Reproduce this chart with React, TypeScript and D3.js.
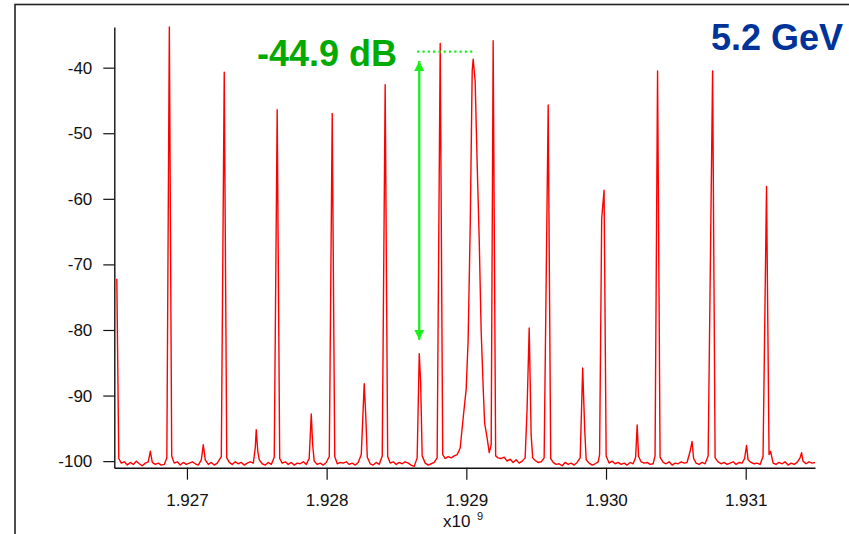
import React, { useEffect, useRef } from "react";
import * as d3 from "d3";

// spectrum trace: [frequency MHz, level dB]
const trace: [number, number][] = [
  [1926.498, -72.2], [1926.512, -99.6], [1926.530, -100.3], [1926.552, -100.1], [1926.573, -100.6], [1926.594, -100.2],
  [1926.616, -100.5], [1926.637, -100.0], [1926.659, -100.4], [1926.680, -100.7], [1926.702, -100.3], [1926.723, -100.1],
  [1926.738, -98.5], [1926.752, -100.2], [1926.773, -100.5], [1926.795, -100.3], [1926.816, -100.6], [1926.838, -100.5],
  [1926.856, -99.5], [1926.874, -33.8], [1926.891, -99.2], [1926.909, -100.3], [1926.931, -100.1], [1926.952, -100.6],
  [1926.974, -100.2], [1926.995, -100.5], [1927.017, -100.3], [1927.038, -100.1], [1927.060, -100.4], [1927.081, -100.6],
  [1927.103, -99.8], [1927.117, -97.5], [1927.131, -99.8], [1927.153, -100.5], [1927.174, -100.2], [1927.196, -100.6],
  [1927.217, -100.3], [1927.246, -99.3], [1927.267, -40.7], [1927.285, -99.5], [1927.303, -100.2], [1927.324, -100.5],
  [1927.346, -100.1], [1927.367, -100.4], [1927.389, -100.2], [1927.410, -100.6], [1927.432, -100.3], [1927.453, -100.1],
  [1927.475, -100.3], [1927.489, -98.0], [1927.496, -95.2], [1927.507, -98.5], [1927.518, -99.8], [1927.539, -100.4],
  [1927.561, -100.6], [1927.582, -100.2], [1927.604, -100.5], [1927.625, -99.4], [1927.646, -46.4], [1927.664, -99.6],
  [1927.682, -100.3], [1927.704, -100.1], [1927.725, -100.5], [1927.747, -100.2], [1927.768, -100.6], [1927.790, -100.3],
  [1927.811, -100.4], [1927.833, -100.1], [1927.854, -100.5], [1927.875, -99.6], [1927.890, -92.8], [1927.900, -97.5],
  [1927.911, -100.0], [1927.933, -100.5], [1927.954, -100.3], [1927.976, -100.6], [1927.997, -100.2], [1928.019, -99.3],
  [1928.040, -47.0], [1928.058, -99.3], [1928.076, -100.4], [1928.097, -100.2], [1928.119, -100.3], [1928.140, -100.1],
  [1928.162, -100.5], [1928.183, -100.3], [1928.205, -100.6], [1928.226, -100.2], [1928.248, -99.0], [1928.269, -88.2],
  [1928.280, -93.0], [1928.291, -99.4], [1928.312, -100.4], [1928.333, -100.6], [1928.355, -100.2], [1928.376, -100.5],
  [1928.398, -99.2], [1928.419, -42.6], [1928.437, -99.3], [1928.455, -100.3], [1928.477, -100.1], [1928.498, -100.5],
  [1928.520, -100.2], [1928.541, -100.4], [1928.562, -100.1], [1928.584, -100.3], [1928.605, -100.6], [1928.627, -100.8],
  [1928.648, -99.5], [1928.663, -83.6], [1928.673, -88.0], [1928.684, -99.2], [1928.706, -100.3], [1928.727, -100.6],
  [1928.749, -100.4], [1928.770, -100.2], [1928.791, -99.5], [1928.813, -36.3], [1928.831, -99.0], [1928.849, -99.6],
  [1928.870, -99.3], [1928.892, -99.5], [1928.913, -99.2], [1928.935, -99.0], [1928.956, -98.0], [1928.977, -93.5],
  [1928.999, -89.0], [1929.013, -81.5], [1929.028, -64.0], [1929.042, -40.5], [1929.049, -38.7], [1929.063, -42.0],
  [1929.078, -55.0], [1929.092, -66.0], [1929.106, -80.0], [1929.121, -89.0], [1929.131, -94.2], [1929.149, -96.5],
  [1929.164, -98.7], [1929.178, -97.5], [1929.192, -35.9], [1929.210, -99.2], [1929.228, -99.5], [1929.249, -99.6],
  [1929.271, -99.4], [1929.292, -100.0], [1929.314, -99.7], [1929.335, -100.2], [1929.357, -99.8], [1929.378, -100.3],
  [1929.400, -100.0], [1929.421, -99.5], [1929.435, -92.0], [1929.450, -79.7], [1929.464, -96.0], [1929.475, -99.5],
  [1929.493, -99.9], [1929.514, -100.2], [1929.536, -100.1], [1929.557, -99.5], [1929.586, -45.7], [1929.604, -99.6],
  [1929.622, -100.2], [1929.643, -100.5], [1929.664, -100.4], [1929.686, -100.7], [1929.707, -100.2], [1929.729, -100.5],
  [1929.750, -100.3], [1929.772, -100.6], [1929.793, -100.2], [1929.815, -99.5], [1929.833, -85.8], [1929.847, -95.0],
  [1929.858, -99.8], [1929.879, -100.3], [1929.901, -100.6], [1929.922, -100.4], [1929.944, -100.1], [1929.954, -99.0],
  [1929.969, -63.0], [1929.986, -58.7], [1930.001, -99.2], [1930.022, -100.3], [1930.044, -100.0], [1930.065, -100.4],
  [1930.087, -100.2], [1930.108, -100.5], [1930.130, -100.3], [1930.151, -100.6], [1930.173, -100.2], [1930.194, -100.4],
  [1930.212, -99.4], [1930.223, -94.5], [1930.233, -99.3], [1930.251, -100.1], [1930.273, -100.3], [1930.294, -100.2],
  [1930.316, -100.5], [1930.337, -100.4], [1930.351, -99.2], [1930.369, -40.5], [1930.387, -99.4], [1930.409, -100.2],
  [1930.430, -100.4], [1930.452, -100.1], [1930.473, -100.6], [1930.495, -100.3], [1930.516, -100.4], [1930.538, -100.1],
  [1930.559, -100.3], [1930.580, -100.2], [1930.602, -98.5], [1930.616, -97.0], [1930.627, -99.6], [1930.645, -100.3],
  [1930.666, -100.5], [1930.688, -100.2], [1930.709, -100.4], [1930.731, -99.2], [1930.763, -40.5], [1930.781, -99.5],
  [1930.802, -100.1], [1930.824, -100.4], [1930.845, -100.2], [1930.867, -100.5], [1930.888, -100.3], [1930.910, -100.1],
  [1930.931, -100.5], [1930.953, -100.2], [1930.974, -100.3], [1930.992, -99.6], [1931.006, -97.6], [1931.017, -99.8],
  [1931.038, -100.2], [1931.060, -100.4], [1931.081, -100.3], [1931.103, -100.5], [1931.124, -99.3], [1931.149, -58.1],
  [1931.167, -99.0], [1931.178, -98.5], [1931.196, -100.3], [1931.217, -100.5], [1931.239, -100.2], [1931.260, -100.4],
  [1931.282, -100.1], [1931.303, -100.6], [1931.325, -100.3], [1931.346, -100.5], [1931.368, -100.2], [1931.389, -99.5],
  [1931.400, -98.7], [1931.410, -100.0], [1931.432, -100.4], [1931.453, -100.1], [1931.475, -100.3], [1931.496, -100.2],
];

const yTicks = [-100, -90, -80, -70, -60, -50, -40];
const xTicks = [1927, 1928, 1929, 1930, 1931]; // MHz, shown as GHz x10^9
const deltaLabel = "-44.9 dB";
const energyLabel = "5.2 GeV";

// the arrow spans the dotted reference level down to the small peak
const arrowFreq = 1928.663;
const arrowTopDb = -38.98;
const arrowBottomDb = -81.5;
const refFrom = 1928.648;
const refTo = 1929.049;
const refDb = -37.56;

const font = "'Liberation Sans', Arial, Helvetica, sans-serif";

const App = () => {
  const svgRef = useRef<SVGSVGElement>(null);

  useEffect(() => {
    document.body.style.margin = "0";
    const svg = d3.select(svgRef.current);
    svg.selectAll("*").remove();

    const x = d3.scaleLinear().domain([1926.48, 1931.496]).range([114.3, 815]);
    const y = d3.scaleLinear().domain([-101, -33.8]).range([467.7, 27]);

    // outer frame
    svg.append("rect")
      .attr("x", 15).attr("y", 4.5)
      .attr("width", 900).attr("height", 600)
      .attr("fill", "none").attr("stroke", "#222").attr("stroke-width", 1.6);

    const defs = svg.append("defs");
    defs.append("marker")
      .attr("id", "head")
      .attr("viewBox", "0 0 10 10")
      .attr("refX", 10).attr("refY", 5)
      .attr("markerWidth", 10).attr("markerHeight", 10)
      .attr("markerUnits", "userSpaceOnUse")
      .attr("orient", "auto-start-reverse")
      .append("path")
      .attr("d", "M0,0 L10,5 L0,10 Z")
      .attr("fill", "#19f019");

    // axes
    const yAxis = svg.append("g")
      .attr("transform", "translate(114.3,0)")
      .call(d3.axisLeft(y).tickValues(yTicks).tickSize(11).tickSizeOuter(0).tickPadding(11)
        .tickFormat(d => String(d)));
    const xAxis = svg.append("g")
      .attr("transform", "translate(0,467.7)")
      .call(d3.axisBottom(x).tickValues(xTicks).tickSize(12).tickSizeOuter(0).tickPadding(14)
        .tickFormat(d => (Number(d) / 1000).toFixed(3)));

    [yAxis, xAxis].forEach(g => {
      g.attr("font-family", font).attr("font-size", 17);
      g.select(".domain").attr("stroke", "#111").attr("stroke-width", 1.4);
      g.selectAll(".tick line").attr("stroke", "#111").attr("stroke-width", 1.2);
      g.selectAll(".tick text").attr("fill", "#111");
    });

    svg.append("text")
      .attr("x", 443).attr("y", 527)
      .attr("font-family", font).attr("font-size", 17).attr("fill", "#111")
      .text("x10");
    svg.append("text")
      .attr("x", 477).attr("y", 519.5)
      .attr("font-family", font).attr("font-size", 11).attr("fill", "#111")
      .text("9");

    // trace
    const line = d3.line<[number, number]>()
      .x(d => x(d[0]))
      .y(d => y(d[1]));
    svg.append("path")
      .datum(trace)
      .attr("d", line)
      .attr("fill", "none")
      .attr("stroke", "#ff0000")
      .attr("stroke-width", 1.4)
      .attr("stroke-linejoin", "round");

    // annotation
    svg.append("line")
      .attr("x1", x(refFrom)).attr("x2", x(refTo))
      .attr("y1", y(refDb)).attr("y2", y(refDb))
      .attr("stroke", "#19f019").attr("stroke-width", 2.3)
      .attr("stroke-dasharray", "2.2 3.1");
    svg.append("line")
      .attr("x1", x(arrowFreq)).attr("x2", x(arrowFreq))
      .attr("y1", y(arrowTopDb)).attr("y2", y(arrowBottomDb))
      .attr("stroke", "#19f019").attr("stroke-width", 2.3)
      .attr("marker-start", "url(#head)")
      .attr("marker-end", "url(#head)");

    svg.append("text")
      .attr("x", 257).attr("y", 66)
      .attr("font-family", font).attr("font-size", 36).attr("font-weight", "bold")
      .attr("fill", "#00aa00")
      .text(deltaLabel);
    svg.append("text")
      .attr("x", 843).attr("y", 50)
      .attr("text-anchor", "end")
      .attr("font-family", font).attr("font-size", 36).attr("font-weight", "bold")
      .attr("fill", "#003399")
      .text(energyLabel);
  }, []);

  return <svg ref={svgRef} width={849} height={534} style={{ display: "block" }} />;
};

export default App;
